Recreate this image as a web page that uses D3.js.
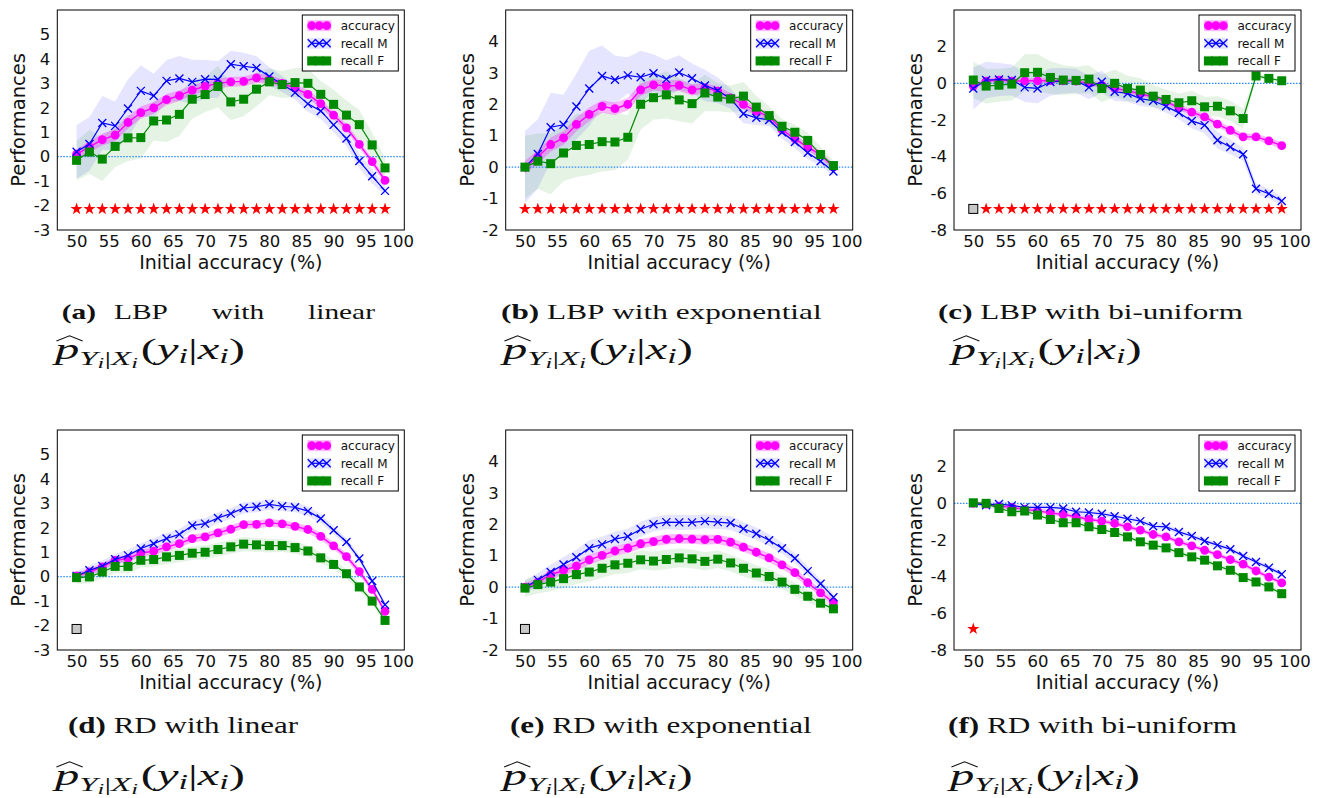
<!DOCTYPE html>
<html>
<head>
<meta charset="utf-8">
<script src="https://cdn.jsdelivr.net/npm/d3@7"></script>
<style>
  body { margin: 0; background: #fff; }
  svg { display: block; }
</style>
</head>
<body>
<div id="chart"></div>
<script>

// initial accuracy levels (x) and axis ticks
var accLevels = [50,52,54,56,58,60,62,64,66,68,70,72,74,76,78,80,82,84,86,88,90,92,94,96,98];
var xTicks = [50,55,60,65,70,75,80,85,90,95,100];
var xDomain = [47, 101];

// y ranges for the three kinds of estimator
var yDomLin = [-3, 6], yTicksLin = [-3,-2,-1,0,1,2,3,4,5];
var yDomExp = [-2, 5], yTicksExp = [-2,-1,0,1,2,3,4];
var yDomBi  = [-8, 4], yTicksBi  = [-8,-6,-4,-2,0,2];

// (a) LBP with linear
var accA     = [0.10,0.40,0.70,0.88,1.40,1.80,2.00,2.33,2.50,2.72,2.88,3.00,3.06,3.08,3.22,3.15,3.00,2.80,2.55,2.17,1.70,1.18,0.50,-0.20,-0.97];
var accA_sd  = [0.20,0.22,0.24,0.25,0.25,0.25,0.24,0.23,0.22,0.21,0.20,0.20,0.20,0.20,0.20,0.18,0.17,0.17,0.17,0.17,0.16,0.16,0.16,0.15,0.15];
var recMA    = [0.20,0.52,1.38,1.26,1.97,2.69,2.49,3.10,3.20,3.06,3.17,3.16,3.78,3.70,3.63,3.28,2.97,2.62,2.16,1.87,1.30,0.74,-0.18,-0.80,-1.40];
var recMA_sd = [1.10,1.10,1.10,1.00,1.20,1.05,0.90,0.85,0.92,0.90,0.78,0.75,0.55,0.55,0.48,0.38,0.33,0.28,0.32,0.33,0.30,0.30,0.30,0.30,0.20];
var recFA    = [-0.15,0.19,-0.10,0.42,0.77,0.78,1.46,1.50,1.73,2.35,2.54,2.87,2.24,2.35,2.76,3.06,2.95,3.03,3.00,2.55,2.14,1.70,1.31,0.48,-0.46];
var recFA_sd = [0.80,0.90,0.90,0.85,0.95,0.85,0.80,0.90,0.88,0.80,0.72,0.85,0.75,0.70,0.70,0.55,0.55,0.60,0.60,0.55,0.60,0.60,0.60,0.50,0.40];
var sigA = ["*","*","*","*","*","*","*","*","*","*","*","*","*","*","*","*","*","*","*","*","*","*","*","*","*"];

// (b) LBP with exponential
var accB     = [0.00,0.32,0.72,0.93,1.36,1.68,1.93,1.86,2.00,2.46,2.62,2.58,2.60,2.46,2.52,2.42,2.20,2.00,1.78,1.60,1.19,0.90,0.64,0.40,0.00];
var accB_sd  = [0.20,0.22,0.22,0.22,0.22,0.22,0.20,0.20,0.20,0.20,0.18,0.18,0.18,0.18,0.16,0.15,0.15,0.15,0.14,0.14,0.13,0.13,0.12,0.12,0.10];
var recMB    = [0.00,0.42,1.27,1.35,1.93,2.50,2.90,2.78,2.92,2.86,2.99,2.80,3.01,2.83,2.60,2.44,2.18,1.70,1.57,1.50,1.11,0.80,0.46,0.19,-0.14];
var recMB_sd = [1.15,1.10,1.10,0.95,1.05,1.20,0.97,0.77,0.58,0.84,0.60,0.60,0.55,0.47,0.50,0.41,0.32,0.30,0.23,0.20,0.20,0.20,0.20,0.16,0.14];
var recFB    = [0.00,0.19,0.11,0.45,0.69,0.72,0.81,0.80,0.95,2.00,2.21,2.30,2.14,2.02,2.36,2.23,2.17,2.26,1.91,1.64,1.30,1.11,0.85,0.40,0.05];
var recFB_sd = [1.00,0.88,0.97,0.90,1.00,0.97,0.95,0.90,0.72,0.80,0.70,0.75,0.68,0.63,0.58,0.45,0.43,0.45,0.35,0.30,0.23,0.25,0.25,0.25,0.15];
var sigB = ["*","*","*","*","*","*","*","*","*","*","*","*","*","*","*","*","*","*","*","*","*","*","*","*","*"];

// (c) LBP with bi-uniform
var accC     = [-0.15,0.12,0.18,0.12,0.14,0.14,0.15,0.14,0.12,0.00,-0.10,-0.28,-0.40,-0.58,-0.73,-1.00,-1.32,-1.57,-1.83,-2.23,-2.56,-2.92,-2.92,-3.14,-3.40];
var accC_sd  = [0.14,0.15,0.16,0.15,0.14,0.15,0.16,0.15,0.14,0.15,0.14,0.15,0.15,0.14,0.15,0.16,0.15,0.16,0.17,0.17,0.18,0.18,0.17,0.18,0.18];
var recMC    = [-0.28,0.18,0.21,0.18,-0.22,-0.28,0.07,0.14,0.14,-0.22,0.09,-0.46,-0.55,-0.83,-0.95,-1.25,-1.61,-2.05,-2.28,-3.10,-3.47,-3.87,-5.75,-6.02,-6.42];
var recMC_sd = [1.15,1.00,0.90,0.85,0.80,0.80,0.75,0.70,0.65,0.65,0.60,0.50,0.45,0.40,0.35,0.35,0.35,0.40,0.45,0.45,0.40,0.35,0.30,0.25,0.25];
var recFC    = [0.18,-0.15,-0.10,-0.04,0.58,0.60,0.32,0.18,0.16,0.23,-0.28,0.00,-0.28,-0.37,-0.70,-0.88,-1.06,-0.95,-1.28,-1.25,-1.50,-1.92,0.40,0.27,0.14];
var recFC_sd = [1.00,0.95,0.90,0.90,1.00,1.00,0.90,0.80,0.75,0.75,0.75,0.75,0.70,0.65,0.60,0.55,0.50,0.55,0.55,0.55,0.55,0.55,0.15,0.12,0.10];
var sigC = ["n","*","*","*","*","*","*","*","*","*","*","*","*","*","*","*","*","*","*","*","*","*","*","*","*"];

// (d) RD with linear
var accD     = [0.03,0.19,0.40,0.67,0.74,0.97,1.04,1.22,1.35,1.56,1.63,1.79,1.94,2.13,2.14,2.20,2.16,2.06,1.93,1.65,1.26,0.82,0.21,-0.52,-1.42];
var accD_sd  = [0.12,0.13,0.14,0.14,0.15,0.15,0.15,0.16,0.15,0.16,0.16,0.17,0.16,0.16,0.17,0.16,0.15,0.15,0.15,0.15,0.14,0.14,0.13,0.12,0.10];
var recMD    = [0.03,0.26,0.44,0.71,0.87,1.15,1.35,1.56,1.73,2.09,2.17,2.40,2.58,2.81,2.86,2.96,2.88,2.84,2.68,2.38,1.90,1.42,0.74,-0.18,-1.15];
var recMD_sd = [0.20,0.21,0.22,0.22,0.23,0.22,0.22,0.23,0.22,0.22,0.23,0.22,0.22,0.23,0.22,0.22,0.20,0.20,0.20,0.18,0.16,0.15,0.14,0.12,0.10];
var recFD    = [-0.04,-0.01,0.19,0.42,0.42,0.67,0.70,0.81,0.87,0.96,1.00,1.11,1.22,1.33,1.30,1.27,1.27,1.19,1.05,0.77,0.50,0.12,-0.42,-1.00,-1.79];
var recFD_sd = [0.25,0.27,0.28,0.28,0.29,0.28,0.28,0.29,0.28,0.28,0.29,0.28,0.28,0.29,0.28,0.28,0.26,0.25,0.24,0.22,0.20,0.18,0.16,0.14,0.12];
var sigD = ["n"];

// (e) RD with exponential
var accE     = [0.00,0.16,0.40,0.53,0.67,0.87,1.01,1.15,1.24,1.38,1.45,1.52,1.54,1.53,1.51,1.52,1.43,1.27,1.11,0.93,0.71,0.46,0.14,-0.18,-0.48];
var accE_sd  = [0.12,0.13,0.14,0.15,0.15,0.16,0.15,0.15,0.16,0.15,0.15,0.16,0.15,0.15,0.16,0.15,0.15,0.14,0.14,0.14,0.13,0.13,0.12,0.12,0.10];
var recME    = [0.00,0.23,0.48,0.72,0.95,1.24,1.36,1.53,1.61,1.84,2.00,2.07,2.06,2.06,2.10,2.07,2.04,1.86,1.70,1.49,1.24,0.92,0.51,0.11,-0.32];
var recME_sd = [0.20,0.22,0.23,0.24,0.24,0.25,0.24,0.24,0.25,0.24,0.23,0.23,0.24,0.23,0.23,0.22,0.22,0.21,0.20,0.19,0.18,0.16,0.15,0.13,0.12];
var recFE    = [-0.03,0.08,0.16,0.27,0.40,0.48,0.60,0.71,0.76,0.87,0.83,0.88,0.93,0.90,0.82,0.89,0.77,0.60,0.45,0.34,0.16,-0.07,-0.29,-0.51,-0.69];
var recFE_sd = [0.28,0.28,0.29,0.30,0.30,0.31,0.30,0.30,0.31,0.30,0.30,0.31,0.30,0.30,0.29,0.28,0.27,0.26,0.25,0.24,0.22,0.20,0.18,0.16,0.14];
var sigE = ["n"];

// (f) RD with bi-uniform
var accF     = [0.00,-0.04,-0.15,-0.22,-0.33,-0.41,-0.52,-0.61,-0.73,-0.88,-0.97,-1.10,-1.28,-1.46,-1.70,-1.83,-2.10,-2.32,-2.56,-2.80,-3.07,-3.32,-3.69,-4.02,-4.34];
var accF_sd  = [0.10,0.11,0.12,0.12,0.12,0.13,0.12,0.12,0.13,0.12,0.12,0.13,0.12,0.12,0.13,0.12,0.12,0.13,0.12,0.12,0.13,0.12,0.12,0.12,0.12];
var recMF    = [0.00,-0.10,-0.04,-0.11,-0.22,-0.22,-0.22,-0.28,-0.46,-0.50,-0.57,-0.70,-0.84,-0.97,-1.25,-1.28,-1.56,-1.78,-2.05,-2.28,-2.50,-2.87,-3.20,-3.51,-3.87];
var recMF_sd = [0.12,0.13,0.14,0.15,0.15,0.16,0.15,0.15,0.16,0.15,0.15,0.16,0.15,0.15,0.16,0.15,0.15,0.16,0.15,0.15,0.16,0.15,0.15,0.15,0.15];
var recFF    = [0.03,0.00,-0.28,-0.46,-0.42,-0.64,-0.88,-1.06,-1.06,-1.28,-1.43,-1.59,-1.83,-2.10,-2.28,-2.43,-2.69,-2.92,-3.10,-3.41,-3.65,-4.05,-4.29,-4.56,-4.93];
var recFF_sd = [0.12,0.13,0.14,0.15,0.15,0.16,0.15,0.15,0.16,0.15,0.15,0.16,0.15,0.15,0.16,0.15,0.15,0.16,0.15,0.15,0.16,0.15,0.15,0.15,0.15];
var sigF = ["*"];

// height (in data units) of the significance row, one per panel
var sigLevels = [-2.14, -1.33, -6.85, -2.14, -1.33, -6.85];

var legendLabels = ["accuracy", "recall M", "recall F"];
var captions = [
    ["(a)", "LBP", "with", "linear"],
    ["(b)", "LBP", "with", "exponential"],
    ["(c)", "LBP", "with", "bi-uniform"],
    ["(d)", "RD", "with", "linear"],
    ["(e)", "RD", "with", "exponential"],
    ["(f)", "RD", "with", "bi-uniform"]
];


var panels = [
    { acc: accA, accSd: accA_sd, recM: recMA, recMSd: recMA_sd, recF: recFA, recFSd: recFA_sd, sig: sigA, yDom: yDomLin, yTicks: yTicksLin },
    { acc: accB, accSd: accB_sd, recM: recMB, recMSd: recMB_sd, recF: recFB, recFSd: recFB_sd, sig: sigB, yDom: yDomExp, yTicks: yTicksExp },
    { acc: accC, accSd: accC_sd, recM: recMC, recMSd: recMC_sd, recF: recFC, recFSd: recFC_sd, sig: sigC, yDom: yDomBi,  yTicks: yTicksBi },
    { acc: accD, accSd: accD_sd, recM: recMD, recMSd: recMD_sd, recF: recFD, recFSd: recFD_sd, sig: sigD, yDom: yDomLin, yTicks: yTicksLin },
    { acc: accE, accSd: accE_sd, recM: recME, recMSd: recME_sd, recF: recFE, recFSd: recFE_sd, sig: sigE, yDom: yDomExp, yTicks: yTicksExp },
    { acc: accF, accSd: accF_sd, recM: recMF, recMSd: recMF_sd, recF: recFF, recFSd: recFF_sd, sig: sigF, yDom: yDomBi,  yTicks: yTicksBi }
];

var W = 1322, H = 798;
var colLeft = [57.3, 505.7, 954], rowTop = [10, 430];
var pw = 347, ph = 220;
var sans = "'DejaVu Sans', sans-serif";
var serif = "'Liberation Serif', serif";

var MAG = "#ff00ff", BLUE = "#0000ff", GREEN = "#008a00";

var svg = d3.select("#chart").append("svg")
    .attr("width", W)
    .attr("height", H);

// marker drawing, one function per series
function drawMarker(sel, kind, color) {
    if (kind === "circle") {
        sel.append("circle").attr("r", 4.4).attr("fill", color);
    } else if (kind === "cross") {
        sel.append("path").attr("d", "M-4,-4L4,4M-4,4L4,-4")
            .attr("stroke", color).attr("stroke-width", 1.3).attr("fill", "none");
    } else {
        sel.append("rect").attr("x", -4.5).attr("y", -4.5).attr("width", 9).attr("height", 9)
            .attr("fill", color);
    }
}

function drawPanel(p, idx) {
    var col = idx % 3, row = Math.floor(idx / 3);
    var g = svg.append("g")
        .attr("transform", "translate(" + colLeft[col] + "," + rowTop[row] + ")");

    var x = d3.scaleLinear().domain(xDomain).range([0, pw]);
    var y = d3.scaleLinear().domain(p.yDom).range([ph, 0]);

    var series = [
        { v: p.acc,  sd: p.accSd,  color: MAG,   op: 0.28, marker: "circle", lw: 1.4 },
        { v: p.recM, sd: p.recMSd, color: BLUE,  op: 0.10, marker: "cross",  lw: 1.2 },
        { v: p.recF, sd: p.recFSd, color: GREEN, op: 0.10, marker: "square", lw: 1.2 }
    ];

    var idxs = d3.range(accLevels.length);

    // shaded bands (blue and green first, magenta on top)
    [1, 2, 0].forEach(function(k) {
        var s = series[k];
        var area = d3.area()
            .x(function(i) { return x(accLevels[i]); })
            .y0(function(i) { return y(s.v[i] - s.sd[i]); })
            .y1(function(i) { return y(s.v[i] + s.sd[i]); });
        g.append("path").datum(idxs)
            .attr("d", area)
            .attr("fill", s.color)
            .attr("fill-opacity", s.op);
    });

    // zero reference line
    g.append("line")
        .attr("x1", 0).attr("x2", pw)
        .attr("y1", y(0)).attr("y2", y(0))
        .attr("stroke", "#2b8cff")
        .attr("stroke-width", 1.1)
        .attr("stroke-dasharray", "1.5,1.5");

    // lines and markers
    series.forEach(function(s) {
        var line = d3.line()
            .x(function(i) { return x(accLevels[i]); })
            .y(function(i) { return y(s.v[i]); });
        g.append("path").datum(idxs)
            .attr("d", line)
            .attr("fill", "none")
            .attr("stroke", s.color)
            .attr("stroke-width", s.lw);

        g.selectAll(null).data(idxs).enter().append("g")
            .attr("transform", function(i) { return "translate(" + x(accLevels[i]) + "," + y(s.v[i]) + ")"; })
            .each(function() { drawMarker(d3.select(this), s.marker, s.color); });
    });

    // significance row
    var star = d3.symbol().type(d3.symbolStar).size(46);
    p.sig.forEach(function(k, i) {
        var mg = g.append("g")
            .attr("transform", "translate(" + x(accLevels[i]) + "," + y(sigLevels[idx]) + ")");
        if (k === "*") {
            mg.append("path").attr("d", star()).attr("fill", "#ff0000");
        } else if (k === "n") {
            mg.append("rect").attr("x", -4.5).attr("y", -4.5).attr("width", 9).attr("height", 9)
                .attr("fill", "#c8c8c8").attr("stroke", "#000").attr("stroke-width", 1);
        }
    });

    // axes (labels only, box drawn separately)
    var xAxis = d3.axisBottom(x).tickValues(xTicks).tickSize(0).tickPadding(5)
        .tickFormat(function(d) { return String(d); });
    var yAxis = d3.axisLeft(y).tickValues(p.yTicks).tickSize(0).tickPadding(7)
        .tickFormat(function(d) { return String(d); });

    var gx = g.append("g").attr("transform", "translate(0," + ph + ")").call(xAxis);
    var gy = g.append("g").call(yAxis);
    [gx, gy].forEach(function(a) {
        a.select(".domain").remove();
        a.attr("font-family", sans).attr("font-size", 16.5);
        a.selectAll("text").attr("fill", "#111");
    });

    // frame
    g.append("rect")
        .attr("width", pw).attr("height", ph)
        .attr("fill", "none").attr("stroke", "#000").attr("stroke-width", 1);

    // axis titles
    g.append("text")
        .attr("x", pw / 2).attr("y", ph + 39)
        .attr("text-anchor", "middle")
        .attr("font-family", sans).attr("font-size", 19)
        .attr("fill", "#111")
        .text("Initial accuracy (%)");

    g.append("text")
        .attr("transform", "translate(-32," + (ph / 2) + ") rotate(-90)")
        .attr("text-anchor", "middle")
        .attr("font-family", sans).attr("font-size", 19.5)
        .attr("fill", "#111")
        .text("Performances");

    // legend
    var lg = g.append("g").attr("transform", "translate(" + (pw - 102) + ",5)");
    lg.append("rect").attr("width", 96).attr("height", 56)
        .attr("fill", "#fff").attr("stroke", "#000").attr("stroke-width", 1);
    series.forEach(function(s, k) {
        var ry = 10.7 + k * 17.6;
        lg.append("rect").attr("x", 5).attr("y", ry - 5.5).attr("width", 24).attr("height", 11)
            .attr("fill", s.color).attr("fill-opacity", s.op);
        lg.append("line").attr("x1", 9.4).attr("x2", 24.4).attr("y1", ry).attr("y2", ry)
            .attr("stroke", s.color).attr("stroke-width", s.lw);
        [9.4, 16.9, 24.4].forEach(function(mx) {
            drawMarker(lg.append("g").attr("transform", "translate(" + mx + "," + ry + ")"), s.marker, s.color);
        });
        lg.append("text").attr("x", 38.4).attr("y", ry + 4.2)
            .attr("font-family", sans).attr("font-size", 12)
            .attr("fill", "#111")
            .text(legendLabels[k]);
    });
}

panels.forEach(drawPanel);

// captions: first line (bold label + words), second line (math)
var capX = [61.7, 501, 938, 68, 510, 948];
var capW = [313.3, 320.7, 305, 230, 301.7, 289];
var capY = [319, 319, 319, 733, 733, 733];
var capSize = [21, 21, 21, 23, 23, 23];
var mathX = [55, 503, 951.7, 55, 502.7, 950];
var mathY = [359, 359, 359, 785, 785, 785];

function captionLine(words, x0, yb, size, target, justify) {
    var g = svg.append("g");
    var t = g.append("text").attr("font-family", serif).attr("font-size", size).attr("fill", "#111");
    var spans = words.map(function(w, i) {
        return t.append("tspan").attr("font-weight", i === 0 ? "bold" : "normal").text(w);
    });
    var widths = spans.map(function(s) { return s.node().getComputedTextLength(); });
    var sum = d3.sum(widths), gap = 0.25 * size, k, gaps;
    if (justify) {
        // label gap stays natural, the remaining word gaps absorb the stretch
        k = 1.4;
        var g0 = 18 / k;
        var rest = (target / k - sum - g0) / (words.length - 2);
        gaps = words.map(function(w, i) { return i === 0 ? g0 : rest; });
    } else {
        k = target / (sum + gap * (words.length - 1));
        gaps = words.map(function() { return gap; });
    }
    var cx = 0;
    spans.forEach(function(s, i) { s.attr("x", cx); cx += widths[i] + gaps[i]; });
    g.attr("transform", "translate(" + x0 + "," + yb + ") scale(" + k + ",1)");
}

function mathLine(x0, yb, size, target) {
    var g = svg.append("g");
    var t = g.append("text").attr("font-family", serif).attr("font-size", size).attr("fill", "#111");
    // [glyph, relative size, baseline shift (em of main size), italic]
    var parts = [
        ["p", 1, 0, true], ["Y", 0.68, 0.2, true], ["i", 0.5, 0.1, true], ["|", 0.68, -0.1, false],
        ["X", 0.68, 0, true], ["i", 0.5, 0.1, true], ["(", 1, -0.3, false], ["y", 1, 0, true],
        ["i", 0.7, 0.15, true], ["|", 1, -0.15, false], ["x", 1, 0, true], ["i", 0.7, 0.15, true],
        [")", 1, -0.15, false]
    ];
    parts.forEach(function(pt, i) {
        t.append("tspan")
            .attr("font-size", size * pt[1])
            .attr("dy", size * pt[2])
            .attr("dx", i === 6 ? size * 0.06 : 0)
            .attr("font-style", pt[3] ? "italic" : "normal")
            .text(pt[0]);
    });
    var len = t.node().getComputedTextLength();
    var k = target / len;
    // wide hat over p
    g.append("path")
        .attr("d", "M" + (0.03 * size) + "," + (-0.62 * size) + "L" + (0.3 * size) + "," + (-0.8 * size) +
            "L" + (0.57 * size) + "," + (-0.62 * size))
        .attr("fill", "none").attr("stroke", "#111").attr("stroke-width", 1.1)
        .attr("vector-effect", "non-scaling-stroke");
    g.attr("transform", "translate(" + x0 + "," + yb + ") scale(" + k + ",1)");
}

captions.forEach(function(words, i) {
    captionLine(words, capX[i], capY[i], capSize[i], capW[i], i === 0);
    mathLine(mathX[i], mathY[i], 29, 187);
});

</script>
</body>
</html>
